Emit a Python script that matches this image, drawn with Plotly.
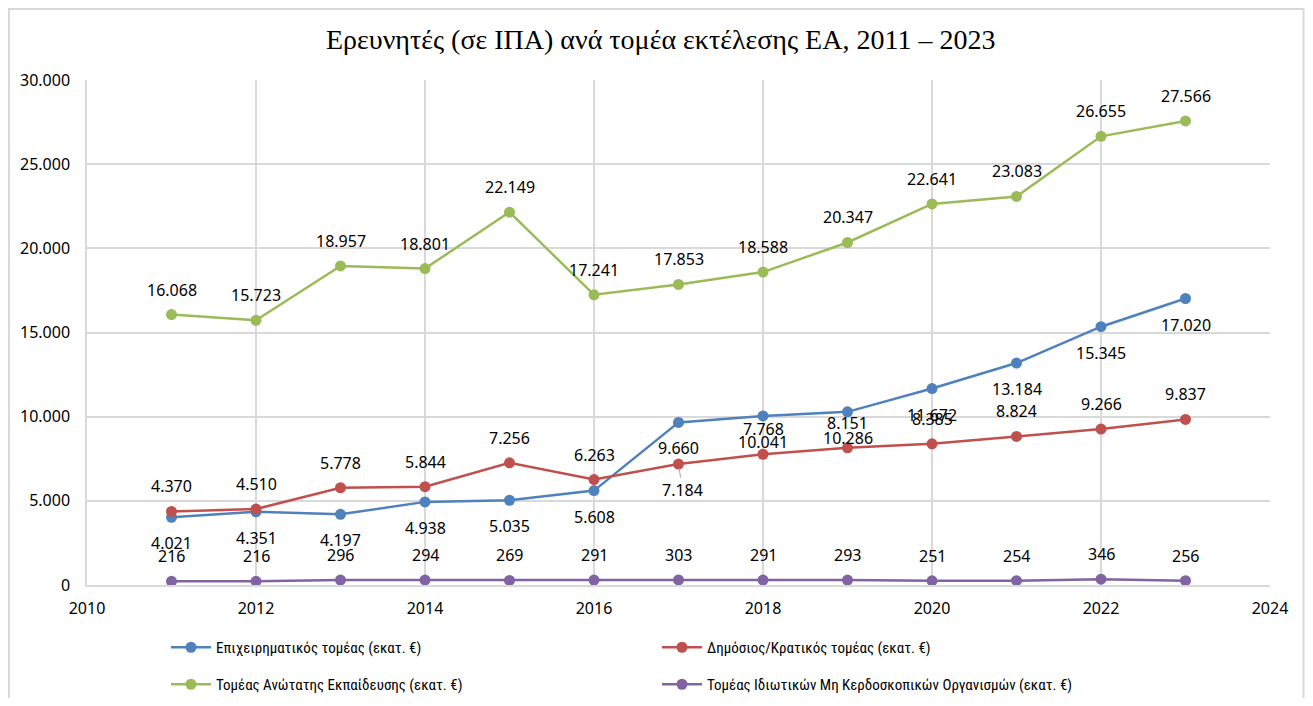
import plotly.graph_objects as go

years = [2011, 2012, 2013, 2014, 2015, 2016, 2017, 2018, 2019, 2020, 2021, 2022, 2023]
business = [4021, 4351, 4197, 4938, 5035, 5608, 9660, 10041, 10286, 11672, 13184, 15345, 17020]
government = [4370, 4510, 5778, 5844, 7256, 6263, 7184, 7768, 8151, 8385, 8824, 9266, 9837]
higher_ed = [16068, 15723, 18957, 18801, 22149, 17241, 17853, 18588, 20347, 22641, 23083, 26655, 27566]
private_np = [216, 216, 296, 294, 269, 291, 303, 291, 293, 251, 254, 346, 256]

names = [
    "Επιχειρηματικός τομέας (εκατ. €)",
    "Δημόσιος/Κρατικός τομέας (εκατ. €)",
    "Τομέας Ανώτατης Εκπαίδευσης (εκατ. €)",
    "Τομέας Ιδιωτικών Μη Κερδοσκοπικών Οργανισμών (εκατ. €)",
]
colors = ["#4f81bd", "#c0504d", "#9bbb59", "#8064a2"]
series = [business, government, higher_ed, private_np]
label_side = ["below", "above", "above", "above"]
legends = ["legend", "legend", "legend2", "legend2"]

title = "Ερευνητές (σε ΙΠΑ) ανά τομέα εκτέλεσης ΕΑ, 2011 – 2023"

# page body has an 8px margin: figure pixel = reference pixel - 8
OFF = 8
W, H = 1313 - 2 * OFF, 706 - 2 * OFF
L, T = 87 - OFF, 80 - OFF
R = W - (1270 - OFF)
B = H - (585 - OFF)
PW, PH = W - L - R, H - T - B

def px_x(p):  # reference x pixel -> paper
    return (p - OFF - L) / PW

def px_y(p):  # reference y pixel -> paper
    return ((585 - OFF) - (p - OFF)) / PH

def fmt(v):
    return f"{v:,}".replace(",", ".")

fig = go.Figure()
for name, col, vals, leg in zip(names, colors, series, legends):
    fig.add_trace(go.Scatter(
        x=years, y=vals, mode="lines+markers", name=name,
        line=dict(color=col, width=2.5),
        marker=dict(color=col, size=11),
        legend=leg,
    ))

label_font = dict(family="Noto Sans, Open Sans, sans-serif", size=16, color="#000000")
annotations = []
for idx, (vals, side) in enumerate(zip(series, label_side)):
    for x, v in zip(years, vals):
        if idx == 1 and x == 2017:
            annotations.append(dict(
                x=x, y=v, xref="x", yref="y", text=fmt(v), showarrow=True,
                arrowhead=0, arrowwidth=1, arrowcolor="#a6a6a6",
                ax=4, ay=26, standoff=4, font=label_font,
            ))
            continue
        annotations.append(dict(
            x=x, y=v, xref="x", yref="y", text=fmt(v), showarrow=False,
            yshift=-26 if side == "below" else 25, font=label_font,
        ))

annotations.append(dict(
    x=px_x(660), y=px_y(40),
    xref="paper", yref="paper", text=title, showarrow=False,
    font=dict(family="Liberation Serif, Times New Roman, serif", size=28, color="#000000"),
    xanchor="center", yanchor="middle",
))

tick_font = dict(family="Noto Sans, Open Sans, sans-serif", size=16, color="#000000")
legend_font = dict(family="Liberation Sans Narrow, Roboto Condensed, Noto Sans, sans-serif", size=15, color="#000000")

fig.update_layout(
    width=W, height=H,
    margin=dict(l=L, r=R, t=T, b=B, autoexpand=False),
    paper_bgcolor="white", plot_bgcolor="white",
    separators=",.",
    annotations=annotations,
    xaxis=dict(
        range=[2010, 2024], dtick=2, tick0=2010, tickformat="d",
        showgrid=True, gridcolor="#d9d9d9", gridwidth=1.5,
        showline=True, linecolor="#d9d9d9", linewidth=1.5,
        zeroline=False, ticks="", tickfont=tick_font, ticklabelstandoff=8,
    ),
    yaxis=dict(
        range=[0, 30000], dtick=5000, tickformat=",d",
        showgrid=True, gridcolor="#d9d9d9", gridwidth=1.5,
        showline=True, linecolor="#d9d9d9", linewidth=1.5,
        zeroline=False, ticks="", ticklabelstandoff=12, tickfont=tick_font,
    ),
    legend=dict(
        orientation="h", x=px_x(166), xanchor="left",
        y=px_y(631), yanchor="top", entrywidth=436, entrywidthmode="pixels",
        font=legend_font, bgcolor="rgba(0,0,0,0)", itemwidth=40,
    ),
    legend2=dict(
        orientation="h", x=px_x(166), xanchor="left",
        y=px_y(668), yanchor="top", entrywidth=436, entrywidthmode="pixels",
        font=legend_font, bgcolor="rgba(0,0,0,0)", itemwidth=40,
    ),
    shapes=[dict(
        type="rect", xref="paper", yref="paper",
        x0=px_x(OFF + 1), x1=px_x(OFF + W - 1.5),
        y0=px_y(OFF + H + 5), y1=px_y(OFF + 1),
        line=dict(color="#d9d9d9", width=2), fillcolor="rgba(0,0,0,0)", layer="below",
    )],
)

fig.write_html("out.html")
